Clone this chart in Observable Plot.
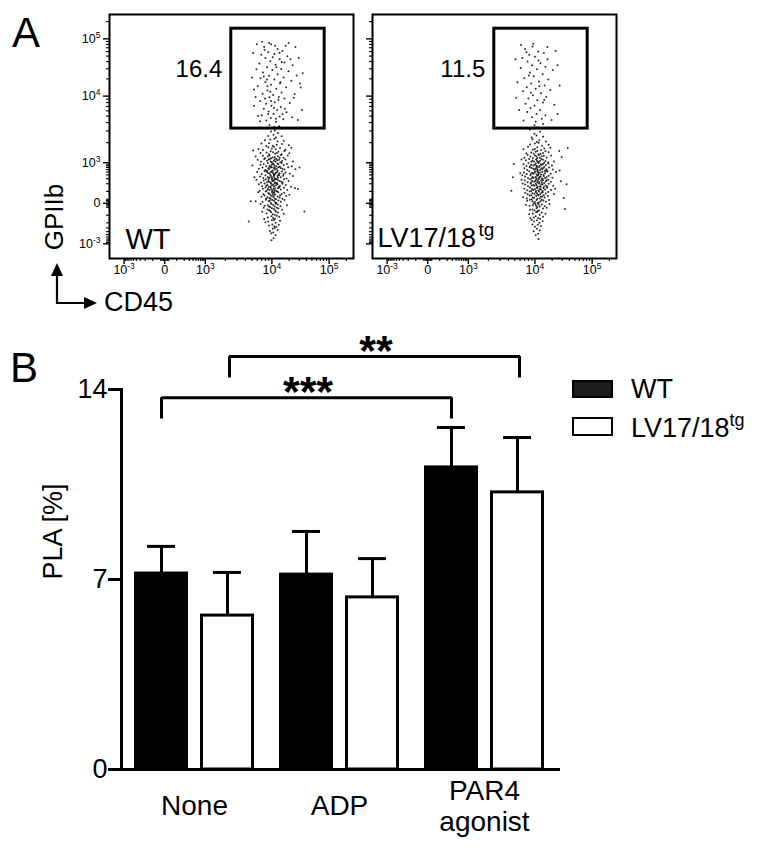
<!DOCTYPE html>
<html>
<head>
<meta charset="utf-8">
<script src="https://cdn.jsdelivr.net/npm/d3@7"></script>
<script src="https://cdn.jsdelivr.net/npm/@observablehq/plot@0.6"></script>
<style>
  body { margin: 0; background: #fff; }
  #fig { position: relative; width: 769px; height: 856px; overflow: hidden;
         font-family: "Liberation Sans", Arial, Helvetica, sans-serif; color: #000; }
  #fig > * { position: absolute; }
  .lbl { line-height: 1; white-space: nowrap; }
</style>
</head>
<body>
<div id="fig"></div>
<script>
const FONT = '"Liberation Sans", Arial, Helvetica, sans-serif';

// ---------------- Panel B data ----------------
const treatments = ["None", "ADP", "PAR4 agonist"];
const genotypes = ["WT", "LV17/18tg"];
const wtMean = [7.22, 7.18, 11.13];
const wtSem  = [1.00, 1.59, 1.47];
const lvMean = [5.67, 6.34, 10.21];
const lvSem  = [1.59, 1.43, 2.02];
const plaTicks = [0, 7, 14];
// significance brackets
const sigFrom  = ["None", "None"];
const sigTo    = ["PAR4 agonist", "PAR4 agonist"];
const sigGroup = ["WT", "LV17/18tg"];
const sigLevel = [13.70, 15.22];
const sigLeg   = [12.93, 14.44];
const sigText  = ["***", "**"];

// ---------------- Panel A data ----------------
const flowTickValues = [-1000, 0, 1000, 10000, 100000];
const flowTickLabels = ["10\u207B\u00B3", "0", "10\u00B3", "10\u2074", "10\u2075"];
const samples = ["WT", "LV17/18tg"];
const gatePercent = [16.4, 11.5];
// gate in display (biexponential channel) units
const gateCD45  = [1.64, 3.94];
const gateGPIIb = [1.84, 4.30];

// events: [CD45, GPIIb] in display (biexponential channel) units
const wtEvents = [
[2.62,1.77],[2.79,1.73],[2.71,1.79],[2.55,1.66],[2.74,1.62],[2.68,1.69],[2.88,1.65],
[2.60,1.57],[2.78,1.52],[2.47,1.55],[2.70,1.59],[2.93,1.54],
[2.57,1.48],[2.76,1.44],[2.50,1.41],[2.89,1.46],[2.66,1.42],[2.38,1.47],[3.06,1.43],
[2.55,1.38],[2.73,1.33],[2.84,1.36],[2.42,1.31],[2.64,1.35],[2.97,1.32],[2.69,1.39],[2.31,1.34],[3.12,1.37],
[2.61,1.28],[2.72,1.22],[2.51,1.25],[2.80,1.27],[2.88,1.21],[2.36,1.24],[2.67,1.26],[3.07,1.23],[2.57,1.21],[2.95,1.29],[2.76,1.24],
[2.58,1.18],[2.66,1.13],[2.79,1.16],[2.47,1.11],[2.86,1.19],[2.71,1.14],[2.42,1.17],[2.93,1.12],[2.75,1.10],[2.24,1.15],[3.03,1.18],[2.62,1.11],[2.54,1.15],[2.83,1.12],
[2.56,1.08],[2.73,1.02],[2.52,1.05],[2.82,1.07],[2.64,1.01],[2.45,1.09],[2.89,1.04],[2.77,1.06],[2.61,1.03],[2.37,1.02],[2.97,1.08],[2.69,1.05],[3.16,1.03],[2.29,1.07],[2.59,1.09],[2.85,1.01],[2.71,1.08],
[2.66,0.98],[2.70,0.93],[2.80,0.96],[2.50,0.91],[2.88,0.99],[2.63,0.95],[2.75,0.91],[2.44,0.97],[2.93,0.94],[2.58,0.92],[2.83,0.90],[2.36,0.95],[3.01,0.97],[2.54,0.99],[2.16,0.93],[3.13,0.91],[2.68,0.96],[2.78,0.98],[2.61,0.90],
[2.60,0.88],[2.72,0.83],[2.55,0.86],[2.80,0.89],[2.66,0.81],[2.76,0.85],[2.48,0.82],[2.86,0.87],[2.69,0.86],[2.57,0.84],[2.41,0.88],[2.95,0.83],[2.78,0.80],[2.32,0.85],[3.04,0.89],[2.64,0.89],[3.22,0.84],[2.52,0.80],[2.90,0.85],[2.71,0.88],
[2.63,0.78],[2.68,0.72],[2.53,0.75],[2.77,0.77],[2.60,0.71],[2.83,0.74],[2.66,0.76],[2.46,0.79],[2.72,0.73],[2.89,0.78],[2.57,0.74],[2.39,0.72],[2.98,0.76],[2.69,0.70],[2.80,0.71],[2.28,0.77],[3.08,0.73],[2.51,0.79],[2.74,0.75],[2.62,0.77],[2.93,0.72],
[2.61,0.68],[2.71,0.62],[2.54,0.65],[2.78,0.67],[2.65,0.61],[2.48,0.69],[2.86,0.64],[2.68,0.66],[2.58,0.63],[2.75,0.60],[2.43,0.62],[2.92,0.68],[2.63,0.64],[2.82,0.69],[2.35,0.66],[3.00,0.61],[2.21,0.64],[3.16,0.67],[2.70,0.69],[2.56,0.60],[2.79,0.63],
[2.64,0.58],[2.72,0.52],[2.55,0.55],[2.79,0.57],[2.61,0.51],[2.68,0.56],[2.49,0.59],[2.87,0.53],[2.70,0.58],[2.58,0.53],[2.76,0.50],[2.44,0.56],[2.94,0.59],[2.66,0.54],[2.37,0.51],[3.05,0.55],[2.83,0.55],[2.26,0.58],[2.52,0.52],[2.74,0.59],[2.90,0.51],
[2.62,0.48],[2.69,0.42],[2.53,0.45],[2.78,0.47],[2.60,0.41],[2.74,0.44],[2.46,0.49],[2.84,0.43],[2.67,0.46],[2.56,0.40],[2.90,0.48],[2.40,0.42],[2.71,0.49],[2.98,0.45],[2.32,0.47],[3.11,0.41],[2.64,0.44],[2.50,0.43],[2.81,0.41],[2.76,0.49],
[2.61,0.38],[2.71,0.32],[2.54,0.35],[2.79,0.37],[2.66,0.31],[2.48,0.39],[2.86,0.34],[2.68,0.36],[2.58,0.33],[2.75,0.30],[2.42,0.36],[2.94,0.38],[2.63,0.34],[2.34,0.31],[3.02,0.33],[3.21,0.37],[2.51,0.31],[2.82,0.39],[2.72,0.37],
[2.64,0.28],[2.72,0.22],[2.55,0.25],[2.80,0.27],[2.60,0.21],[2.68,0.26],[2.49,0.29],[2.88,0.23],[2.70,0.28],[2.43,0.22],[2.94,0.26],[2.66,0.23],[2.30,0.27],[3.07,0.21],[2.57,0.24],[2.77,0.29],[2.84,0.20],
[2.63,0.18],[2.71,0.12],[2.53,0.15],[2.78,0.17],[2.61,0.11],[2.83,0.14],[2.67,0.16],[2.46,0.19],[2.90,0.11],[2.58,0.13],[2.38,0.16],[2.99,0.18],[2.74,0.10],[2.50,0.12],[2.69,0.19],
[2.65,0.08],[2.72,0.02],[2.56,0.05],[2.80,0.07],[2.61,0.01],[2.49,0.09],[2.86,0.04],[2.69,0.06],[2.41,0.03],[2.95,0.08],[2.24,0.05],[2.75,0.01],[2.59,0.07],
[2.63,-0.02],[2.71,-0.08],[2.54,-0.05],[2.79,-0.03],[2.60,-0.09],[2.46,-0.06],[2.85,-0.07],[2.67,-0.04],[2.36,-0.02],[3.01,-0.05],[2.74,-0.01],[2.57,-0.08],
[2.64,-0.12],[2.72,-0.18],[2.53,-0.15],[2.80,-0.13],[2.60,-0.19],[2.89,-0.16],[2.44,-0.11],[2.69,-0.14],[2.76,-0.11],[2.57,-0.17],
[2.62,-0.22],[2.71,-0.28],[2.51,-0.25],[2.79,-0.23],[2.66,-0.27],[2.40,-0.21],[2.93,-0.26],[2.74,-0.21],
[2.63,-0.32],[2.72,-0.38],[2.54,-0.35],[2.82,-0.33],[2.67,-0.36],[2.45,-0.39],[2.76,-0.31],
[2.64,-0.42],[2.73,-0.48],[2.55,-0.45],[2.84,-0.43],[2.48,-0.47],[2.69,-0.41],
[2.65,-0.52],[2.75,-0.58],[2.57,-0.55],[2.81,-0.53],[2.70,-0.57],
[2.66,-0.63],[2.59,-0.68],[2.78,-0.66],[2.71,-0.61],[2.62,-0.74],[2.73,-0.78],[2.67,-0.72],[2.68,-0.86],[2.63,-0.91],
[2.07,-0.45],[3.44,-0.20],[2.12,0.05],[3.32,0.88],[2.18,1.30],[3.28,0.35],[2.70,1.88],[2.58,1.93],[2.82,1.90],[2.76,1.84],
// gate population
[2.45,3.85],[2.62,3.92],[2.78,3.80],[2.55,3.72],[2.90,3.75],[2.38,3.66],[2.70,3.68],[3.02,3.62],[2.48,3.58],[2.83,3.55],
[2.60,3.50],[2.95,3.47],[2.33,3.44],[2.73,3.41],[3.15,3.40],[2.52,3.35],[2.87,3.31],[2.65,3.28],[2.42,3.22],[3.05,3.25],
[2.78,3.18],[2.57,3.14],[2.93,3.10],[2.36,3.08],[2.70,3.05],[2.48,2.99],[3.12,3.02],[2.84,2.95],[2.62,2.92],[2.29,2.88],
[2.99,2.86],[2.75,2.82],[2.53,2.78],[2.88,2.73],[2.41,2.70],[2.67,2.67],[3.20,2.69],[2.58,2.61],[2.95,2.58],[2.80,2.55],
[2.35,2.52],[2.71,2.49],[2.50,2.45],[3.08,2.47],[2.63,2.40],[2.86,2.37],[2.44,2.33],[2.77,2.30],[2.56,2.26],[3.00,2.24],
[2.68,2.20],[2.39,2.17],[2.83,2.14],[2.61,2.10],[2.92,2.07],[2.50,2.04],[2.74,2.01],[2.20,2.40],[3.35,2.85],[2.57,3.95],
[2.98,3.88],[2.66,3.60],[2.44,3.12],[2.81,2.62],[2.69,2.35],[2.53,2.88],[3.10,3.55],[2.26,3.30],[2.90,2.19],[2.60,2.75],
[2.75,3.35],[2.47,2.58],[3.25,3.15],[2.72,3.88],[2.85,2.99],
[2.18,3.70],[2.24,2.62],[3.30,3.58],[3.38,2.30],[2.15,3.10],[3.28,2.05],[2.30,2.15],[3.22,3.85],[2.27,3.92],[3.40,3.20],
[2.35,2.02],[3.18,2.60],[2.40,3.98],[3.05,3.95],[2.20,2.80],[3.33,2.95],[2.52,3.05],[2.83,3.70],[2.96,2.33],[2.62,2.52],
[2.46,3.78],[3.14,2.12],[2.74,2.08],[2.88,3.48],[2.55,2.20]
];

const lvEvents = [
[2.77,1.76],[2.63,1.71],[2.84,1.64],[2.68,1.67],[2.56,1.62],[2.75,1.55],[2.58,1.58],[2.91,1.52],[2.69,1.51],
[2.64,1.47],[2.82,1.42],[2.52,1.45],[3.45,1.36],[2.73,1.49],[2.98,1.44],
[2.70,1.38],[2.59,1.32],[2.87,1.35],[2.47,1.39],[2.79,1.31],[3.02,1.37],[2.64,1.34],[2.36,1.33],
[2.66,1.27],[2.78,1.22],[2.55,1.25],[2.90,1.28],[2.73,1.21],[2.43,1.23],[2.98,1.26],[3.24,1.29],[2.61,1.22],[2.84,1.24],[2.70,1.29],
[2.64,1.18],[2.76,1.12],[2.53,1.15],[2.86,1.17],[2.70,1.11],[2.46,1.19],[2.93,1.13],[2.81,1.16],[2.38,1.12],[3.04,1.18],[3.30,1.14],[2.59,1.11],[2.68,1.15],[2.74,1.19],
[2.67,1.08],[2.74,1.02],[2.58,1.05],[2.84,1.07],[2.71,1.01],[2.50,1.09],[2.90,1.04],[2.62,1.03],[2.80,1.09],[2.42,1.06],[2.97,1.01],[2.69,1.05],[2.31,1.08],[3.11,1.03],[2.55,1.02],[2.77,1.05],[2.87,1.00],
[2.66,0.98],[2.76,0.92],[2.55,0.95],[2.84,0.97],[2.70,0.91],[2.48,0.99],[2.91,0.94],[2.79,0.96],[2.60,0.93],[2.73,0.99],[2.43,0.92],[2.97,0.98],[2.87,0.90],[2.36,0.96],[3.06,0.93],[2.64,0.95],[2.12,0.97],[2.52,0.91],[2.81,0.94],[2.68,0.92],
[2.68,0.88],[2.77,0.82],[2.60,0.85],[2.85,0.87],[2.71,0.81],[2.51,0.89],[2.92,0.84],[2.80,0.86],[2.63,0.83],[2.74,0.89],[2.45,0.82],[2.99,0.88],[2.88,0.80],[2.38,0.86],[3.08,0.83],[2.66,0.85],[2.82,0.84],[3.25,0.81],[2.56,0.87],[2.70,0.84],[2.94,0.81],
[2.65,0.78],[2.73,0.72],[2.57,0.75],[2.82,0.77],[2.68,0.71],[2.50,0.79],[2.89,0.74],[2.76,0.76],[2.60,0.73],[2.70,0.79],[2.44,0.72],[2.95,0.78],[2.85,0.70],[2.37,0.76],[3.03,0.73],[2.63,0.75],[2.79,0.71],[2.28,0.74],[3.16,0.77],[2.54,0.72],[2.72,0.76],[2.91,0.79],
[2.70,0.68],[2.74,0.62],[2.58,0.65],[2.86,0.67],[2.68,0.61],[2.53,0.69],[2.93,0.64],[2.78,0.66],[2.61,0.63],[2.72,0.69],[2.47,0.62],[2.98,0.68],[2.83,0.60],[2.40,0.66],[3.07,0.63],[2.66,0.65],[2.81,0.61],[2.33,0.69],[2.10,0.64],[2.56,0.61],[2.76,0.65],[2.89,0.62],
[2.67,0.58],[2.75,0.52],[2.57,0.55],[2.84,0.57],[2.70,0.51],[2.52,0.59],[2.91,0.54],[2.79,0.56],[2.62,0.53],[2.73,0.59],[2.46,0.52],[2.97,0.58],[2.87,0.50],[2.39,0.56],[3.03,0.53],[2.65,0.55],[2.81,0.51],[2.31,0.58],[3.28,0.54],[2.55,0.51],[2.71,0.55],[2.93,0.57],
[2.66,0.48],[2.77,0.42],[2.60,0.45],[2.83,0.47],[2.71,0.41],[2.53,0.49],[2.90,0.44],[2.80,0.46],[2.63,0.43],[2.74,0.49],[2.47,0.42],[2.98,0.48],[2.86,0.40],[2.40,0.46],[3.09,0.43],[2.68,0.45],[2.78,0.41],[3.42,0.47],[2.56,0.44],[2.94,0.42],[2.34,0.49],
[2.69,0.38],[2.73,0.32],[2.57,0.35],[2.85,0.37],[2.67,0.31],[2.52,0.39],[2.89,0.34],[2.76,0.36],[2.60,0.33],[2.70,0.39],[2.45,0.32],[2.94,0.38],[2.83,0.30],[2.38,0.36],[3.04,0.33],[2.64,0.35],[2.06,0.31],[2.55,0.30],[2.79,0.34],[3.14,0.36],
[2.66,0.28],[2.77,0.22],[2.58,0.25],[2.83,0.27],[2.71,0.21],[2.51,0.29],[2.91,0.24],[2.80,0.26],[2.63,0.23],[2.46,0.22],[2.97,0.28],[2.86,0.20],[2.40,0.26],[3.11,0.23],[2.69,0.25],[2.55,0.20],[2.74,0.29],
[2.67,0.18],[2.76,0.12],[2.59,0.15],[2.82,0.17],[2.70,0.11],[2.51,0.19],[2.88,0.14],[2.79,0.16],[2.62,0.13],[2.44,0.12],[2.96,0.18],[2.35,0.15],[3.35,0.13],[2.56,0.10],[2.73,0.19],
[2.68,0.08],[2.74,0.02],[2.58,0.05],[2.85,0.07],[2.71,0.01],[2.52,0.09],[2.91,0.04],[2.64,0.03],[2.45,0.06],[2.99,0.08],[2.78,0.05],[2.61,0.00],[2.81,0.09],
[2.65,-0.02],[2.76,-0.08],[2.59,-0.05],[2.81,-0.03],[2.70,-0.09],[2.51,-0.06],[2.88,-0.07],[2.42,-0.04],[3.00,-0.02],[2.67,-0.06],[2.73,-0.03],
[2.68,-0.12],[2.74,-0.18],[2.58,-0.15],[2.84,-0.13],[2.71,-0.19],[2.52,-0.16],[2.93,-0.11],[3.38,-0.14],[2.63,-0.18],
[2.67,-0.22],[2.76,-0.28],[2.59,-0.25],[2.81,-0.23],[2.50,-0.27],[2.90,-0.26],[2.70,-0.21],
[2.66,-0.32],[2.77,-0.38],[2.61,-0.35],[2.84,-0.33],[2.53,-0.37],[2.72,-0.36],
[2.69,-0.42],[2.75,-0.48],[2.62,-0.45],[2.83,-0.44],[2.56,-0.41],
[2.71,-0.53],[2.64,-0.58],[2.79,-0.56],[2.58,-0.52],[2.69,-0.63],[2.76,-0.67],[2.61,-0.69],[2.72,-0.75],[2.66,-0.79],[2.73,-0.88],
[2.72,1.87],[2.63,1.92],[2.84,1.95],[2.52,1.82],
// gate population
[2.40,3.80],[2.58,3.86],[2.72,3.74],[2.50,3.66],[2.86,3.70],[2.33,3.58],[2.64,3.61],[2.95,3.55],[2.46,3.49],[2.78,3.45],
[2.57,3.40],[2.90,3.36],[2.29,3.33],[2.69,3.30],[3.08,3.28],[2.52,3.22],[2.83,3.18],[2.61,3.13],[2.38,3.08],[2.97,3.05],
[2.74,3.00],[2.55,2.95],[2.88,2.90],[2.44,2.86],[2.66,2.82],[2.35,2.76],[3.02,2.79],[2.79,2.71],[2.59,2.66],[2.92,2.62],
[2.48,2.58],[2.70,2.54],[2.84,2.48],[2.41,2.45],[2.63,2.40],[3.12,2.43],[2.53,2.35],[2.77,2.30],[2.45,2.25],[2.68,2.20],
[2.90,2.17],[2.57,2.12],[2.81,2.08],[2.36,2.04],[2.66,2.01],[2.73,3.52],[2.49,3.15],[2.87,2.55],[2.60,3.93],[2.21,2.98],
[3.20,3.40],[2.75,2.88],[2.54,2.72],[2.95,3.85],[2.43,3.72],
[2.16,3.55],[3.20,2.20],[2.25,2.30],[3.15,3.75],[2.30,3.90],[3.05,2.05],[2.18,2.60],[3.25,2.90]
];

// ---------------- helpers ----------------
// biexponential-like display transform (fluorescence value -> display unit), for axis ticks
function biex(v) {
  const a = Math.abs(v), s = Math.sign(v);
  let u;
  if (a <= 1000) u = Math.asinh(a / 100) / Math.asinh(10);
  else if (a <= 1e4) u = 1 + 1.64 * Math.log10(a / 1e3);
  else u = 2.64 + 1.41 * Math.log10(a / 1e4);
  return s * u;
}
const flowDomain = [-1.36, 4.65];
const majorU = flowTickValues.map(biex);
const labelByU = new Map(majorU.map((u, i) => [u, flowTickLabels[i]]));
const minorVals = [];
for (let k = 1; k <= 3; k++) minorVals.push(10 * k, -10 * k);
for (let k = 1; k <= 9; k++) minorVals.push(100 * k, -100 * k);
for (let k = 2; k <= 9; k++) minorVals.push(1000 * k, -1000 * k, 10000 * k);
minorVals.push(200000);
const minorU = minorVals.map(biex).filter(u => u > flowDomain[0] && u < flowDomain[1]);

const NS = "http://www.w3.org/2000/svg";
const supMap = {"\u207B": "-", "\u2070": "0", "\u00B9": "1", "\u00B2": "2", "\u00B3": "3",
  "\u2074": "4", "\u2075": "5", "\u2076": "6", "\u2077": "7", "\u2078": "8", "\u2079": "9"};
// render "10ⁿ" tick labels with a real raised exponent
function raiseExponents(svg) {
  svg.querySelectorAll("text").forEach(t => {
    const s = t.textContent;
    const m = s.match(/^10([\u207B\u2070\u00B9\u00B2\u00B3\u2074-\u2079]+)$/);
    if (!m) return;
    t.textContent = "10";
    const ts = document.createElementNS(NS, "tspan");
    ts.setAttribute("font-size", "8.5");
    ts.setAttribute("dy", "-5");
    ts.textContent = [...m[1]].map(c => supMap[c]).join("");
    t.appendChild(ts);
  });
}

const fig = document.getElementById("fig");

function flowPlot(events, idx, showYLabels) {
  const mL = showYLabels ? 109 : 20;
  const marks = [
    Plot.dot(events, {x: d => d[0], y: d => d[1], r: 1.0, fill: "#161616", fillOpacity: 0.9, stroke: null}),
    Plot.frame({stroke: "black", strokeWidth: 2}),
    Plot.rect([0], {x1: () => gateCD45[0], x2: () => gateCD45[1], y1: () => gateGPIIb[0], y2: () => gateGPIIb[1],
      fill: "none", stroke: "black", strokeWidth: 3}),
    Plot.axisX(minorU, {tickSize: 3, tickFormat: () => "", stroke: "black", strokeWidth: 1.1, label: null}),
    Plot.axisX(majorU, {tickSize: 6, tickPadding: 1, tickFormat: u => labelByU.get(u), stroke: "black", fill: "black", strokeWidth: 1.4, label: null}),
    Plot.axisY(minorU, {tickSize: 3, tickFormat: () => "", stroke: "black", strokeWidth: 1.1, label: null}),
    Plot.axisY(majorU, {tickSize: 6, tickPadding: 3, stroke: "black", fill: "black", strokeWidth: 1.4, label: null,
      tickFormat: showYLabels ? (u => labelByU.get(u)) : (() => "")}),
    Plot.text([gatePercent[idx]], {x: () => gateCD45[0], y: () => (gateGPIIb[0] + gateGPIIb[1]) / 2,
      text: d => d.toFixed(1), textAnchor: "end", lineAnchor: "middle", dx: -9, dy: -9, fontSize: 24}),
  ];
  if (idx === 0) {
    marks.push(Plot.text([samples[0]], {frameAnchor: "bottom-left", textAnchor: "start", lineAnchor: "middle",
      dx: 16, dy: -19, fontSize: 29}));
  } else {
    const [base, sup] = ["LV17/18", "tg"];
    marks.push(Plot.text([base], {frameAnchor: "bottom-left", textAnchor: "start", lineAnchor: "middle",
      dx: 5, dy: -20, fontSize: 27}));
    marks.push(Plot.text([sup], {frameAnchor: "bottom-left", textAnchor: "start", lineAnchor: "middle",
      dx: 106, dy: -28.5, fontSize: 19}));
  }
  const svg = Plot.plot({
    width: mL + 244 + 10, height: 288,
    marginLeft: mL, marginRight: 10, marginTop: 14, marginBottom: 30,
    x: {domain: flowDomain}, y: {domain: flowDomain},
    style: {fontFamily: FONT, fontSize: "12.5px", color: "black", background: "none", overflow: "visible"},
    marks
  });
  raiseExponents(svg);
  return svg;
}

const pA1 = flowPlot(wtEvents, 0, true);
pA1.style.left = "0px"; pA1.style.top = "0px";
fig.appendChild(pA1);
const pA2 = flowPlot(lvEvents, 1, false);
pA2.style.left = "352px"; pA2.style.top = "0px";
fig.appendChild(pA2);

// ---------------- Panel B ----------------
const rows = treatments.flatMap((t, i) => [
  {treatment: t, genotype: genotypes[0], mean: wtMean[i], sem: wtSem[i]},
  {treatment: t, genotype: genotypes[1], mean: lvMean[i], sem: lvSem[i]}
]);
const wtRows = rows.filter(d => d.genotype === genotypes[0]);
const lvRows = rows.filter(d => d.genotype === genotypes[1]);
const groupDx = {[genotypes[0]]: -33, [genotypes[1]]: 35};

const bMarks = [
  Plot.ruleX(wtRows, {x: "treatment", y1: "mean", y2: d => d.mean + d.sem, dx: -33, stroke: "black", strokeWidth: 3}),
  Plot.ruleX(lvRows, {x: "treatment", y1: "mean", y2: d => d.mean + d.sem, dx: 33, stroke: "black", strokeWidth: 3}),
  Plot.tickY(wtRows, {x: "treatment", y: d => d.mean + d.sem, insetLeft: 13, insetRight: 79, stroke: "black", strokeWidth: 3}),
  Plot.tickY(lvRows, {x: "treatment", y: d => d.mean + d.sem, insetLeft: 79, insetRight: 13, stroke: "black", strokeWidth: 3}),
  Plot.barY(wtRows, {x: "treatment", y: "mean", fill: "black", stroke: "black", strokeWidth: 3, insetLeft: 1.5, insetRight: 67.5}),
  Plot.barY(lvRows, {x: "treatment", y: "mean", fill: "white", stroke: "black", strokeWidth: 3, insetLeft: 67.5, insetRight: 1.5}),
  Plot.ruleY([0], {stroke: "black", strokeWidth: 3}),
  Plot.frame({anchor: "left", stroke: "black", strokeWidth: 3}),
  Plot.axisY(plaTicks, {tickSize: 13, tickPadding: 1, stroke: "black", strokeWidth: 3, fontSize: 27, label: null}),
  Plot.text(["PLA [%]"], {frameAnchor: "left", rotate: -90, dx: -68, dy: 0, fontSize: 27}),
  Plot.text(treatments, {x: d => d, frameAnchor: "bottom", lineAnchor: "middle", dy: 36, fontSize: 28, lineHeight: 1.1,
    text: d => d.replace(" ", "\n")})
];
sigText.forEach((s, i) => {
  const pts = [
    {t: sigFrom[i], v: sigLeg[i]}, {t: sigFrom[i], v: sigLevel[i]},
    {t: sigTo[i], v: sigLevel[i]}, {t: sigTo[i], v: sigLeg[i]}
  ];
  const dx = groupDx[sigGroup[i]];
  bMarks.push(Plot.line(pts, {x: "t", y: "v", dx, stroke: "black", strokeWidth: 3, strokeLinejoin: "miter", strokeLinecap: "butt"}));
  const mid = treatments[(treatments.indexOf(sigFrom[i]) + treatments.indexOf(sigTo[i])) / 2];
  bMarks.push(Plot.text([s], {x: () => mid, y: () => sigLevel[i], dx: dx + 1.5, dy: -5, lineAnchor: "middle",
    fontSize: 43, fontWeight: "bold"}));
});

const pB = Plot.plot({
  width: 769, height: 556,
  marginLeft: 121, marginRight: 209, marginTop: 89, marginBottom: 87,
  x: {type: "band", domain: treatments, paddingInner: 0.175, paddingOuter: 0.096, align: 0.43, axis: null},
  y: {domain: [0, 14], axis: null},
  style: {fontFamily: FONT, fontSize: "27px", color: "black", background: "none", overflow: "visible"},
  marks: bMarks
});
pB.style.left = "0px"; pB.style.top = "300px";
fig.appendChild(pB);

// ---------------- labels, legend, arrows ----------------
function addLabel(text, left, top, size, extra = "") {
  const d = document.createElement("div");
  d.className = "lbl";
  d.style.cssText = `left:${left}px;top:${top}px;font-size:${size}px;${extra}`;
  d.innerHTML = text;
  fig.appendChild(d);
  return d;
}
addLabel("A", 12, 11.5, 42);
addLabel("B", 10, 346.5, 42);
addLabel("GPIIb", 4, 204, 26, "width:100px;height:26px;text-align:center;transform:rotate(-90deg);");
addLabel("CD45", 104, 289, 27);

function swatch(left, top, w, h, fill) {
  const s = document.createElement("div");
  s.style.cssText = `left:${left}px;top:${top}px;width:${w}px;height:${h}px;box-sizing:border-box;border:2px solid #000;background:${fill};`;
  fig.appendChild(s);
}
swatch(572, 380, 41, 18, "#1c1c1c");
addLabel(genotypes[0], 631, 375.8, 27);
swatch(572, 417, 41, 19, "#fff");
addLabel("LV17/18<sup style=\"font-size:18px;vertical-align:0;position:relative;top:-11px\">tg</sup>", 631, 414.8, 27);

const arr = document.createElementNS(NS, "svg");
arr.setAttribute("width", "120"); arr.setAttribute("height", "330");
arr.style.left = "0px"; arr.style.top = "0px";
arr.innerHTML = `
  <path d="M57,304 V274 M56,303 H86" stroke="#000" stroke-width="2.2" fill="none"/>
  <polygon points="57,263 51,276 63,276" fill="#000"/>
  <polygon points="97,303 84,297 84,309" fill="#000"/>`;
fig.appendChild(arr);
</script>
</body>
</html>
